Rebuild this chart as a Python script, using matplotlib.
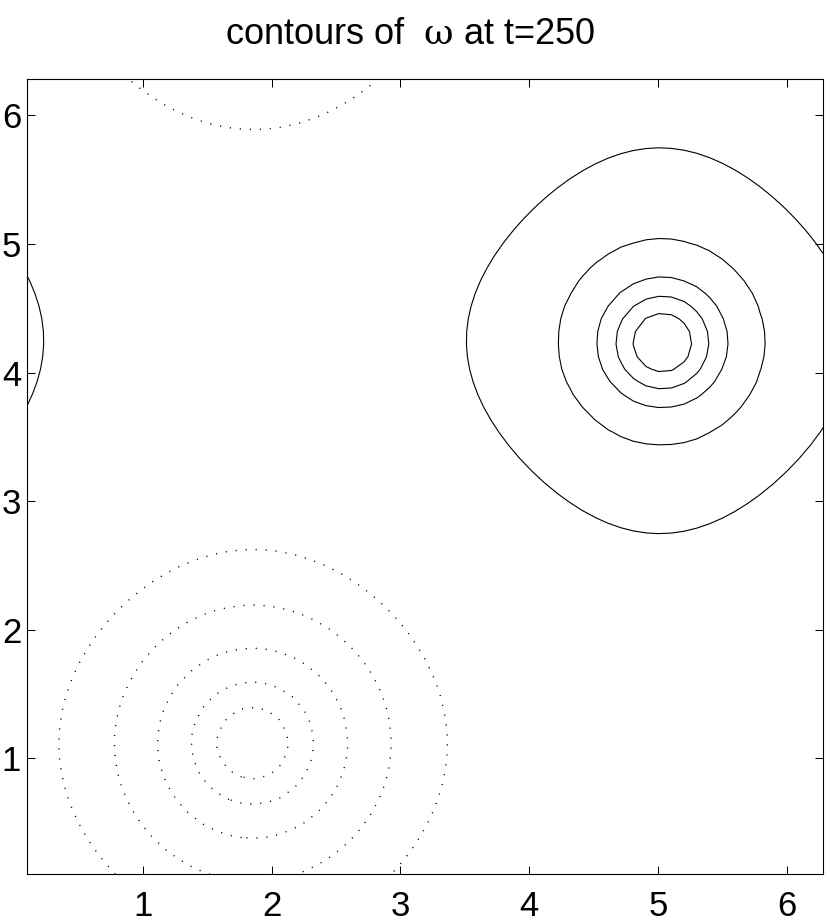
import numpy as np
import matplotlib
matplotlib.use("Agg")
import matplotlib.pyplot as plt

plt.rcParams["font.family"] = ["Liberation Sans", "DejaVu Sans"]
plt.rcParams["mathtext.fontset"] = "custom"
plt.rcParams["mathtext.rm"] = "DejaVu Serif"

# Mesure sur l'image : centres des deux tourbillons et rayons des isolignes
# (lus le long des axes x / y passant par le centre).
N_GRID = 64
POS_CENTER = (5.037, 4.233)
NEG_CENTER = (1.848, 1.120)
POS_RADII = [0.229, 0.360, 0.507, 0.800, 1.500]
NEG_RADII = [0.280, 0.476, 0.739, 1.075, 1.508]
TICKS = [1, 2, 3, 4, 5, 6]
TITLE = r"contours of  $\mathrm{\omega}$ at t=250"

# Forme du champ : mode de grande échelle + coeurs gaussiens périodisés
# (coeur négatif plus large que le positif, d'où des isolignes plus rondes)
BG_AMP = 0.5
POS_CORE = (1.0, 0.45)   # amplitude, largeur
NEG_CORE = (1.0, 1.2)
L = 2 * np.pi


def periodic_gaussian(X, Y, center, width):
    total = np.zeros_like(X)
    for sx in (-L, 0.0, L):
        for sy in (-L, 0.0, L):
            r2 = (X - center[0] - sx) ** 2 + (Y - center[1] - sy) ** 2
            total += np.exp(-r2 / width ** 2)
    return total


def vorticity(X, Y):
    phx = (POS_CENTER[0] + NEG_CENTER[0] + np.pi) / 2
    phy = (POS_CENTER[1] + NEG_CENTER[1] + np.pi) / 2
    background = 0.5 * (np.cos(X - phx) + np.cos(Y - phy))
    cores = (POS_CORE[0] * periodic_gaussian(X, Y, POS_CENTER, POS_CORE[1])
             - NEG_CORE[0] * periodic_gaussian(X, Y, NEG_CENTER, NEG_CORE[1]))
    return BG_AMP * background + cores


def levels_at(center, radii):
    """Valeur du champ sur chaque isoligne, moyennée sur les 4 points axiaux."""
    levels = []
    for r in radii:
        xs = np.array([center[0] - r, center[0] + r, center[0], center[0]])
        ys = np.array([center[1], center[1], center[1] - r, center[1] + r])
        levels.append(vorticity(xs, ys).mean())
    return sorted(levels)


x = np.arange(1, N_GRID + 1) * L / N_GRID
X, Y = np.meshgrid(x, x)
W = vorticity(X, Y)

fig = plt.figure(figsize=(8.3, 9.23), dpi=100)
ax = fig.add_axes([0.0322, 0.0528, 0.9594, 0.8617])

ax.contour(X, Y, W, levels=levels_at(POS_CENTER, POS_RADII),
           colors="black", linewidths=0.8, linestyles="solid")
neg = ax.contour(X, Y, W, levels=levels_at(NEG_CENTER, NEG_RADII),
                 colors="black", linewidths=1.0)
neg.set_linestyle((0, (0.8, 6.4)))

ax.set_xlim(x[0], x[-1])
ax.set_ylim(x[0], x[-1])
ax.set_xticks(TICKS)
ax.set_yticks(TICKS)
ax.tick_params(direction="in", length=5.8, width=0.75, top=True, right=True,
               labelsize=25)
ax.tick_params(axis="x", pad=11.5)
ax.tick_params(axis="y", pad=4.0)
for spine in ax.spines.values():
    spine.set_linewidth(0.8)

fig.text(409.7 / 830, 1 - 44.3 / 923, TITLE, ha="center", va="baseline",
         fontsize=26)

fig.savefig("out.png", dpi=100)
